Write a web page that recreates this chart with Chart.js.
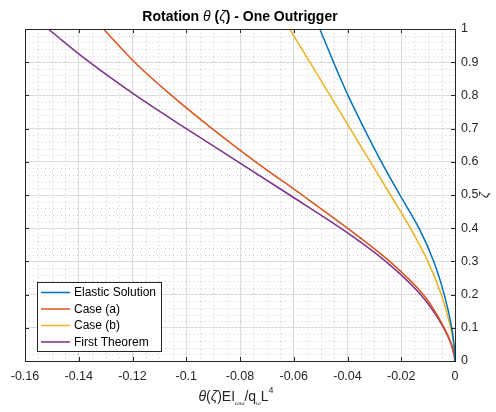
<!DOCTYPE html>
<html>
<head>
<meta charset="utf-8">
<title>Rotation - One Outrigger</title>
<script src="https://cdn.jsdelivr.net/npm/chart.js@4.4.1/dist/chart.umd.min.js"></script>
<style>
  html, body { margin: 0; padding: 0; background: #ffffff; }
  #wrap { width: 496px; height: 412px; }
</style>
</head>
<body>
<div id="wrap"><canvas id="chart" width="496" height="412"></canvas></div>
<script>
// normalised height ζ and the four rotation curves
const zeta = [0, 0.02, 0.05, 0.1, 0.2, 0.3, 0.4, 0.5, 0.6, 0.7, 0.8, 0.9, 1.0];
const elastic = [0, -0.0001, -0.0004, -0.0012, -0.0040, -0.0079, -0.0134, -0.0205, -0.0274, -0.0338, -0.0398, -0.0452, -0.0503];
const caseA = [0, -0.0003, -0.0013, -0.0040, -0.0118, -0.0243, -0.0400, -0.0569, -0.0742, -0.0904, -0.1055, -0.1192, -0.1308];
const caseB = [0, -0.0001, -0.0005, -0.0016, -0.0051, -0.0101, -0.0166, -0.0240, -0.0315, -0.0390, -0.0465, -0.0540, -0.0615];
const firstTheorem = [0, -0.0004, -0.0014, -0.0042, -0.0128, -0.0258, -0.0425, -0.0615, -0.0807, -0.1000, -0.1188, -0.1360, -0.1514];

const seriesNames = ["Elastic Solution", "Case (a)", "Case (b)", "First Theorem"];

const xTicks = [-0.16, -0.14, -0.12, -0.1, -0.08, -0.06, -0.04, -0.02, 0];
const xTickLabels = ["-0.16", "-0.14", "-0.12", "-0.1", "-0.08", "-0.06", "-0.04", "-0.02", "0"];
const yTicks = [0, 0.1, 0.2, 0.3, 0.4, 0.5, 0.6, 0.7, 0.8, 0.9, 1];
const yTickLabels = ["0", "0.1", "0.2", "0.3", "0.4", "0.5", "0.6", "0.7", "0.8", "0.9", "1"];

const FONT = "'Liberation Sans', Arial, Helvetica, sans-serif";
const colors = ["#0072BD", "#D95319", "#EDB120", "#7E2F8E"];

function toPoints(xs) {
    return zeta.map((z, i) => ({ x: xs[i], y: z }));
}

// minor grid, box with inward ticks, legend and TeX-like labels
const matlabAxes = {
    id: "matlabAxes",

    beforeDatasetsDraw(chart) {
        const { ctx, chartArea: a, scales: { x, y } } = chart;
        ctx.save();
        ctx.strokeStyle = "#cfcfcf";
        ctx.lineWidth = 1;
        ctx.setLineDash([1, 3]);
        for (let k = 1; k < 32; k++) {
            if (k % 4 === 0) continue;
            const px = Math.round(x.getPixelForValue(-0.16 + k * 0.005)) + 0.5;
            ctx.beginPath(); ctx.moveTo(px, a.top); ctx.lineTo(px, a.bottom); ctx.stroke();
        }
        for (let k = 1; k < 50; k++) {
            if (k % 5 === 0) continue;
            const py = Math.round(y.getPixelForValue(k * 0.02)) + 0.5;
            ctx.beginPath(); ctx.moveTo(a.left, py); ctx.lineTo(a.right, py); ctx.stroke();
        }
        ctx.restore();
    },

    afterDatasetsDraw(chart) {
        const { ctx, chartArea: a, scales: { x, y } } = chart;
        ctx.save();

        // box
        ctx.strokeStyle = "#262626";
        ctx.lineWidth = 1;
        ctx.strokeRect(Math.round(a.left) + 0.5, Math.round(a.top) + 0.5,
            Math.round(a.right - a.left), Math.round(a.bottom - a.top));

        // inward tick marks
        const tl = 4;
        ctx.beginPath();
        xTicks.forEach(v => {
            const px = Math.round(x.getPixelForValue(v)) + 0.5;
            ctx.moveTo(px, a.bottom); ctx.lineTo(px, a.bottom - tl);
            ctx.moveTo(px, a.top); ctx.lineTo(px, a.top + tl);
        });
        yTicks.forEach(v => {
            const py = Math.round(y.getPixelForValue(v)) + 0.5;
            ctx.moveTo(a.left, py); ctx.lineTo(a.left + tl, py);
            ctx.moveTo(a.right, py); ctx.lineTo(a.right - tl, py);
        });
        ctx.stroke();

        // legend
        ctx.font = "12px " + FONT;
        const textW = Math.max(...chart.data.datasets.map(d => ctx.measureText(d.label).width));
        const lx = a.left + 12, ly = a.top + 253;
        const lw = 4 + 29 + 4 + textW + 5, rowH = 16.5, lh = rowH * 4 + 3;
        ctx.fillStyle = "#ffffff";
        ctx.fillRect(lx, ly, lw, lh);
        ctx.strokeStyle = "#262626";
        ctx.strokeRect(Math.round(lx) + 0.5, Math.round(ly) + 0.5, Math.round(lw), Math.round(lh));
        chart.data.datasets.forEach((d, i) => {
            const cy = ly + 10.5 + i * rowH;
            ctx.strokeStyle = d.borderColor;
            ctx.lineWidth = 1.5;
            ctx.beginPath(); ctx.moveTo(lx + 4, cy); ctx.lineTo(lx + 33, cy); ctx.stroke();
            ctx.fillStyle = "#000000";
            ctx.textBaseline = "middle";
            ctx.textAlign = "left";
            ctx.fillText(d.label, lx + 37, cy + 0.5);
        });

        // title
        drawRich(ctx, (a.left + a.right) / 2, 21, [
            { t: "Rotation ", f: "bold 14px " + FONT },
            { t: "θ", f: "italic 14px " + FONT },
            { t: " (", f: "bold 14px " + FONT },
            { t: "ζ", f: "italic 14px " + FONT },
            { t: ") - One Outrigger", f: "bold 14px " + FONT }
        ], "#000000");

        // x axis label
        drawRich(ctx, 236, 401, [
            { t: "θ", f: "italic 14px " + FONT },
            { t: "(", f: "14px " + FONT },
            { t: "ζ", f: "italic 14px " + FONT },
            { t: ")EI", f: "14px " + FONT },
            { t: "ωω", f: "italic 6px " + FONT, dy: 4 },
            { t: "/q", f: "14px " + FONT },
            { t: "ω", f: "italic 6px " + FONT, dy: 4 },
            { t: "L", f: "14px " + FONT },
            { t: "4", f: "9px " + FONT, dy: -8 }
        ], "#262626");

        // y axis label on the right
        ctx.save();
        ctx.translate(488, (a.top + a.bottom) / 2);
        ctx.rotate(-Math.PI / 2);
        ctx.font = "italic 13px " + FONT;
        ctx.fillStyle = "#262626";
        ctx.textAlign = "center";
        ctx.textBaseline = "alphabetic";
        ctx.fillText("ζ", 0, 0);
        ctx.restore();

        ctx.restore();
    }
};

function drawRich(ctx, cx, baseY, parts, color) {
    let total = 0;
    parts.forEach(p => { ctx.font = p.f; p.w = ctx.measureText(p.t).width; total += p.w; });
    let px = cx - total / 2;
    ctx.fillStyle = color;
    ctx.textAlign = "left";
    ctx.textBaseline = "alphabetic";
    parts.forEach(p => {
        ctx.font = p.f;
        ctx.fillText(p.t, px, baseY + (p.dy || 0));
        px += p.w;
    });
}

const series = [elastic, caseA, caseB, firstTheorem];

new Chart(document.getElementById("chart"), {
    type: "scatter",

    data: {
        datasets: series.map((s, i) => ({
            label: seriesNames[i],
            data: toPoints(s),
            showLine: true,
            borderColor: colors[i],
            backgroundColor: colors[i],
            borderWidth: 1.5,
            pointRadius: 0,
            cubicInterpolationMode: "monotone"
        }))
    },

    options: {
        responsive: false,
        animation: false,
        events: [],
        indexAxis: "y",

        layout: {
            padding: { left: 25, top: 29, right: 0, bottom: 0 }
        },

        plugins: {
            legend: { display: false },
            title: { display: false },
            tooltip: { enabled: false }
        },

        scales: {
            x: {
                type: "linear",
                position: "bottom",
                min: -0.16,
                max: 0,
                afterBuildTicks: s => { s.ticks = xTicks.map(v => ({ value: v })); },
                afterFit: s => { s.height = 51; },
                border: { display: false },
                grid: { color: "#dcdcdc", lineWidth: 1, drawTicks: false },
                ticks: {
                    autoSkip: false,
                    maxRotation: 0,
                    padding: 8,
                    color: "#262626",
                    font: { family: FONT, size: 12.5 },
                    callback: (v, i) => xTickLabels[i]
                }
            },

            y: {
                type: "linear",
                position: "right",
                min: 0,
                max: 1,
                afterBuildTicks: s => { s.ticks = yTicks.map(v => ({ value: v })); },
                afterFit: s => { s.width = 41; },
                border: { display: false },
                grid: { color: "#dcdcdc", lineWidth: 1, drawTicks: false },
                ticks: {
                    autoSkip: false,
                    padding: 6,
                    color: "#262626",
                    font: { family: FONT, size: 12.5 },
                    callback: (v, i) => yTickLabels[i]
                }
            }
        }
    },

    plugins: [matlabAxes]
});
</script>
</body>
</html>
